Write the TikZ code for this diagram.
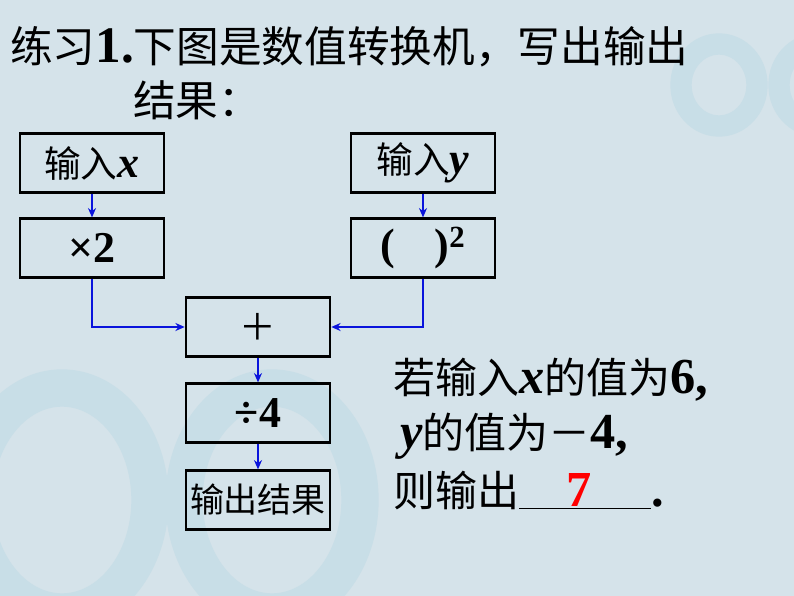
\documentclass[tikz,border=0pt]{standalone}
\usepackage{fontspec}
\usepackage{xcolor}
\setmainfont{Liberation Serif}[Scale=1.2]
\newfontfamily\cjk{Noto Sans CJK SC}
\usetikzlibrary{arrows.meta, positioning, calc}

\definecolor{slidebg}{RGB}{213,227,234}
\definecolor{wmark}{RGB}{200,222,231}
\definecolor{flowblue}{RGB}{10,20,220}

% pixel-like units, y pointing down
\tikzset{
    box/.style={draw=black, line width=1.9pt, minimum width=108pt, minimum height=44pt,
                inner sep=0pt, font=\fontsize{27.5}{30}\selectfont},
    flow/.style={flowblue, line width=1.6pt, -{Stealth[length=7pt, width=6pt]}},
    txt/.style={anchor=west, inner sep=0pt, font=\fontsize{31.5}{36}\selectfont}
}
% Latin parts in bold Times-like face
\def\bx#1{{\rmfamily\bfseries\itshape #1}}
\def\lat#1{{\rmfamily\bfseries #1}}

\begin{document}
\begin{tikzpicture}[x=0.75pt, y=-0.75pt]

% Background
\fill[slidebg] (0,0) rectangle (794,596);
\useasboundingbox (0,0) rectangle (794,596);

% Watermark (infinity signs)
\begin{scope}
    \clip (0,0) rectangle (794,596);
    \draw[wmark, line width=16pt] (719,85) ellipse (38 and 41);
    \draw[wmark, line width=16pt] (817,85) ellipse (38 and 41);
    \draw[wmark, line width=28pt] (272,500) ellipse (88 and 112);
    \draw[wmark, line width=28pt] (62,500) ellipse (88 and 112);
\end{scope}

% Title
\node[txt, font=\fontsize{32}{38}\selectfont] (title) at (10,47)
    {\cjk 练习\lat{1.}下图是数值转换机，写出输出};
\node[txt, font=\fontsize{32}{38}\selectfont] (title2) at (133,100) {\cjk 结果：};

% Left branch
\node[box] (inx) at (92,163) {\cjk 输入\bx{x}\hspace{18pt}};
\node[box] (mul) at (92,248) {\lat{×2}};

% Right branch
\node[box] (iny) at (423,163) {\cjk 输入\bx{y}\hspace{18pt}};
\node[box] (sq)  at (423,248) {\lat{(\hspace{0.9em})\textsuperscript{2}}};

% Middle column
\node[box] (plus) at (258,327) {\cjk ＋};
\node[box] (div)  at (258,413) {\lat{÷4}};
\node[box, font=\fontsize{25.5}{30}\selectfont] (out) at (258,500) {\cjk 输出结果};

% Connectors
\draw[flow] (inx) -- (mul);
\draw[flow] (iny) -- (sq);
\draw[flow] (mul.south) |- (plus.west);
\draw[flow] (sq.south) |- (plus.east);
\draw[flow] (plus) -- (div);
\draw[flow] (div) -- (out);

% Question text
\node[txt] (q1) at (393,380) {\cjk 若输入\bx{x}的值为\lat{6,}};
\node[txt] (q2) at (400,436) {\cjk \bx{y}的值为－\lat{4,}};
\node[txt] (q3) at (393,490) {\cjk 则输出\underline{\makebox[99pt]{\hspace{-10pt}\textcolor{red}{\lat{7}}}}\lat{.}};

\end{tikzpicture}
\end{document}
